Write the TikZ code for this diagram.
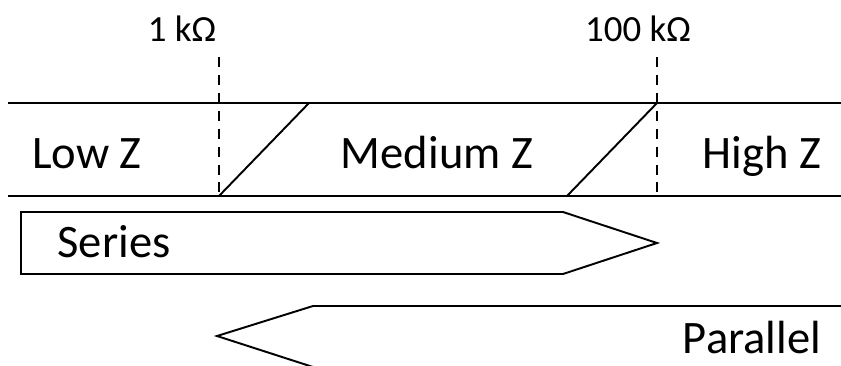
\documentclass[tikz,border=0pt]{standalone}
\usepackage{fontspec}
\setmainfont{Carlito}
\usetikzlibrary{positioning}
\tikzset{
  zonefig/.style={x=0.02cm,y=-0.02cm,line width=1.1pt,
    every node/.style={inner sep=0pt,anchor=base}},
  bandlabel/.style={font=\fontsize{26.5}{30}\selectfont},
  marklabel/.style={font=\fontsize{21}{24}\selectfont},
  boundary/.style={line width=1.5pt,dash pattern=on 5.7pt off 4.5pt},
  rangearrow/.style={line join=miter},
}
\begin{document}
\begin{tikzpicture}[zonefig]
    \useasboundingbox (0,0) rectangle (841,365);
    \clip (0,0) rectangle (841,365);

    % impedance band
    \draw (8,103) -- (850,103);
    \draw (8,196) -- (850,196);
    \coordinate (lotop) at (219,57);
    \coordinate (lobot) at (219,196);
    \coordinate (hitop) at (657,57);
    \coordinate (hibot) at (657,196);
    \draw[boundary] (lotop) -- (lobot);
    \draw[boundary] (hitop) -- (hibot);
    \draw (lobot) -- (309,103);
    \draw (567,196) -- (657,103);

    \node[marklabel] (lok) at (182,41) {1 kΩ};
    \node[marklabel] (hik) at (638,41) {100 kΩ};
    \node[bandlabel] (lowz) at (87,168) {Low Z};
    \node[bandlabel] (medz) at (437,168) {Medium Z};
    \node[bandlabel] (highz) at (762,168) {High Z};

    % matching ranges
    \draw[rangearrow] (21,212) -- (563,212) -- (657,243) -- (563,274)
      -- (21,274) -- cycle;
    \node[bandlabel] (series) at (114,257) {Series};
    \draw[rangearrow] (850,306) -- (313,306) -- (217,336) -- (313,367)
      -- (850,367);
    \node[bandlabel] (parallel) at (752,353) {Parallel};
\end{tikzpicture}
\end{document}
